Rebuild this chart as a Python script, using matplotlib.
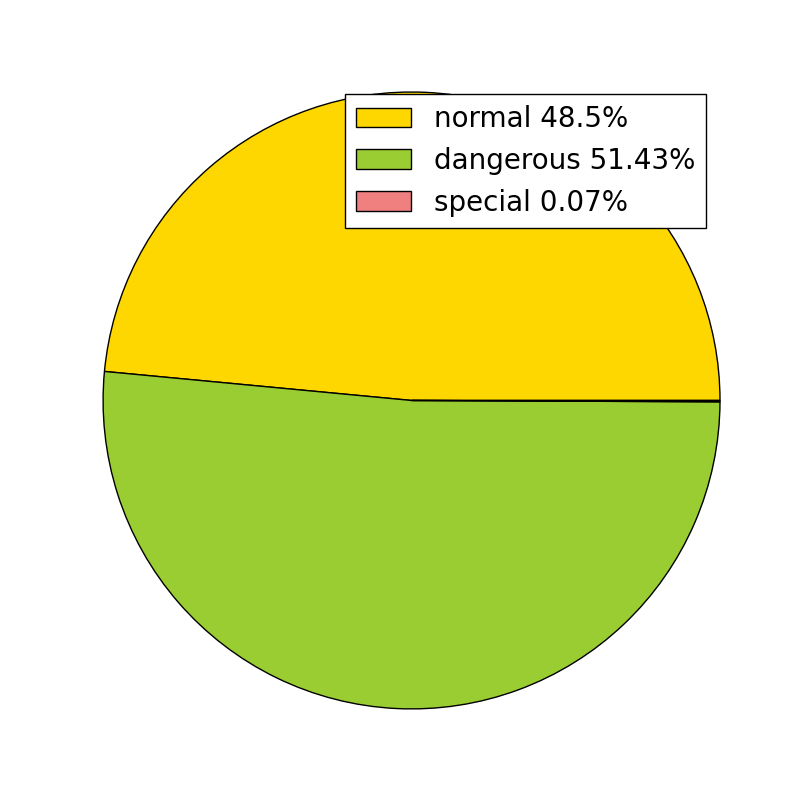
import matplotlib
matplotlib.use('Agg')
import matplotlib.pyplot as plt

plt.style.use('classic')

labels = ['normal', 'dangerous', 'special']
percents = [48.5, 51.43, 0.07]
colors = ['gold', 'yellowgreen', 'lightcoral']

fig = plt.figure(figsize=(8, 8), dpi=100)
fig.patch.set_facecolor('white')
ax = fig.add_subplot(111)
ax.set_facecolor('white')
patches, texts = ax.pie(percents, colors=colors)
leg_labels = ['{} {}%'.format(l, p) for l, p in zip(labels, percents)]
ax.legend(patches, leg_labels, loc='upper right', fontsize=20)
# old-style autoscaling left a little extra room on the left / top
ax.set_aspect('auto')
ax.set_xlim(-1.01, 1.0)
ax.set_ylim(-1.036, 1.039)
plt.savefig('out.png', dpi=100, facecolor='white')
